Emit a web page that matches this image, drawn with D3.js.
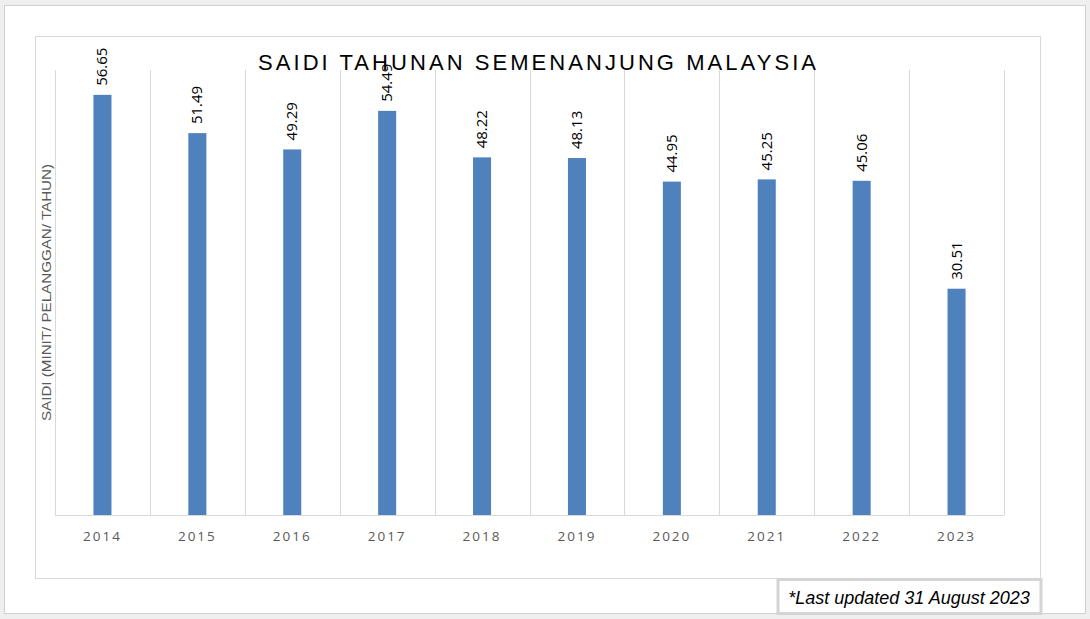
<!DOCTYPE html>
<html><head><meta charset="utf-8">
<script src="https://cdn.jsdelivr.net/npm/d3@7"></script>
<style>
html,body{margin:0;padding:0;background:#efefef;}
svg{display:block;}
</style></head>
<body>
<svg id="chart" width="1090" height="619"></svg>
<script>
const years = ["2014","2015","2016","2017","2018","2019","2020","2021","2022","2023"];
const saidi = [56.65,51.49,49.29,54.49,48.22,48.13,44.95,45.25,45.06,30.51];
const yDomain = [0, 60];
const titleText = "SAIDI TAHUNAN SEMENANJUNG MALAYSIA";
const yTitle = "SAIDI (MINIT/ PELANGGAN/ TAHUN)";
const footnote = "*Last updated 31 August 2023";

const svg = d3.select("#chart");
// outer white panel
svg.append("rect").attr("x",4.5).attr("y",5.5).attr("width",1081).attr("height",608)
  .attr("fill","#fff").attr("stroke","#d0d0d0").attr("stroke-width",1);
// inner chart area
svg.append("rect").attr("x",35.5).attr("y",36.5).attr("width",1005).attr("height",542)
  .attr("fill","#fff").attr("stroke","#d9d9d9").attr("stroke-width",1);

const plot = {left:55, right:1004, top:70, bottom:515};
const x = d3.scaleBand().domain(years).range([plot.left, plot.right]).paddingInner(0.81).paddingOuter(0.405);
const xb = d3.scaleBand().domain(years).range([plot.left, plot.right]).padding(0);
const y = d3.scaleLinear().domain(yDomain).range([plot.bottom, plot.top]);

// vertical category gridlines
const bounds = years.map(d => xb(d)).concat([plot.right]);
svg.append("g").selectAll("line").data(bounds).join("line")
  .attr("x1", d => Math.round(d)+0.5).attr("x2", d => Math.round(d)+0.5)
  .attr("y1", plot.top).attr("y2", plot.bottom)
  .attr("stroke","#d9d9d9").attr("stroke-width",1);

// title
svg.append("text").attr("x",537).attr("y",70).attr("text-anchor","middle")
  .attr("font-family","'Liberation Sans', Arial, sans-serif").attr("font-size",22)
  .attr("fill","#000").attr("textLength",558).attr("lengthAdjust","spacing")
  .text(titleText);

// bars
svg.append("g").selectAll("rect").data(saidi).join("rect")
  .attr("x", (d,i) => x(years[i]))
  .attr("width", x.bandwidth())
  .attr("y", d => y(d))
  .attr("height", d => y(0) - y(d))
  .attr("fill","#4f81bd");

// baseline axis
const xAxis = d3.axisBottom(xb).tickSize(0).tickPadding(16);
const gx = svg.append("g").attr("transform",`translate(0,${plot.bottom})`).call(xAxis);
gx.select(".domain").attr("stroke","#d9d9d9").attr("d",`M${plot.left},0.5H${plot.right}`);
gx.selectAll("text").attr("font-family","'Open Sans', Arial, sans-serif").attr("font-size",13.5)
  .attr("fill","#595959").attr("letter-spacing","2px");

// value labels rotated
svg.append("g").selectAll("text").data(saidi).join("text")
  .attr("transform", (d,i) => `translate(${xb(years[i]) + xb.bandwidth()/2 + 5},${y(d) - 9}) rotate(-90)`)
  .attr("font-family","'Open Sans', Arial, sans-serif").attr("font-size",15)
  .attr("fill","#000").attr("text-anchor","start")
  .text(d => d.toFixed(2));

// y title
svg.append("text").attr("transform",`translate(51,${(plot.top+plot.bottom)/2}) rotate(-90)`)
  .attr("text-anchor","middle")
  .attr("font-family","'Liberation Sans', Arial, sans-serif").attr("font-size",13)
  .attr("fill","#595959").attr("textLength",257).attr("lengthAdjust","spacingAndGlyphs")
  .text(yTitle);

// footnote box
svg.append("rect").attr("x",778).attr("y",579.5).attr("width",263).attr("height",34)
  .attr("fill","#fff").attr("stroke","#d4d4d4").attr("stroke-width",3);
svg.append("text").attr("x",909).attr("y",604).attr("text-anchor","middle")
  .attr("font-family","'Liberation Sans', Arial, sans-serif").attr("font-size",18)
  .attr("font-style","italic").attr("fill","#000")
  .text(footnote);
</script>
</body></html>
